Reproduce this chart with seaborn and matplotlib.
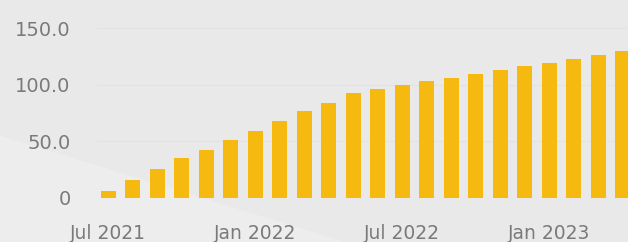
import matplotlib
matplotlib.use("Agg")
import matplotlib.pyplot as plt
import seaborn as sns
import pandas as pd
from matplotlib.patches import Polygon

months = ["Jul 2021", "Aug 2021", "Sep 2021", "Oct 2021", "Nov 2021", "Dec 2021",
          "Jan 2022", "Feb 2022", "Mar 2022", "Apr 2022", "May 2022", "Jun 2022",
          "Jul 2022", "Aug 2022", "Sep 2022", "Oct 2022", "Nov 2022", "Dec 2022",
          "Jan 2023", "Feb 2023", "Mar 2023", "Apr 2023"]
values = [6.3, 15.5, 25.3, 35.2, 42.6, 51.5, 58.9, 67.6, 76.8, 84.3, 92.6,
          95.9, 99.5, 103.0, 106.3, 109.9, 113.1, 116.4, 119.6, 123.2, 126.8, 130.1]
tick_labels = ["Jul 2021", "Jan 2022", "Jul 2022", "Jan 2023"]
y_ticks = [0, 50, 100, 150]
y_tick_labels = ["0", "50.0", "100.0", "150.0"]

df = pd.DataFrame({"month": months, "value": values})

sns.set_theme(style="white")
plt.rcParams['font.family'] = ['DejaVu Sans']

fig = plt.figure(figsize=(6.28, 2.42), dpi=100)
fig.patch.set_facecolor("#e9e9e9")
# lighter diagonal band lower-left
fig.patches.append(Polygon([(0, 0), (0, 0.44), (0.55, 0.0)], closed=True,
                           transform=fig.transFigure, facecolor="#ededed",
                           edgecolor="none", zorder=0))

ax = fig.add_axes([97/628, (242-197.7)/242, (628-97)/628, 187.7/242])
ax.set_zorder(2)
ax.set_facecolor("none")

sns.barplot(data=df, x="month", y="value", color="#F5B90F", width=0.61,
            saturation=1, linewidth=0, edgecolor="none", ax=ax, zorder=3)

ax.set_xlim(-0.45, 21.22)
ax.set_ylim(0, 166.3)
ax.set_yticks(y_ticks)
ax.set_yticklabels(y_tick_labels)
ax.set_xticks([months.index(t) for t in tick_labels])
ax.set_xticklabels(tick_labels)
ax.tick_params(axis="y", length=0, pad=19, labelsize=14, labelcolor="#7a7a7a")
ax.tick_params(axis="x", length=0, pad=19, labelsize=13.5, labelcolor="#7a7a7a")
ax.yaxis.grid(True, color="#e3e3e3", linewidth=0.8, zorder=0)
ax.set_axisbelow(True)
ax.set_xlabel("")
ax.set_ylabel("")
for s in ax.spines.values():
    s.set_visible(False)

fig.savefig("out.png", dpi=100, facecolor=fig.get_facecolor())
